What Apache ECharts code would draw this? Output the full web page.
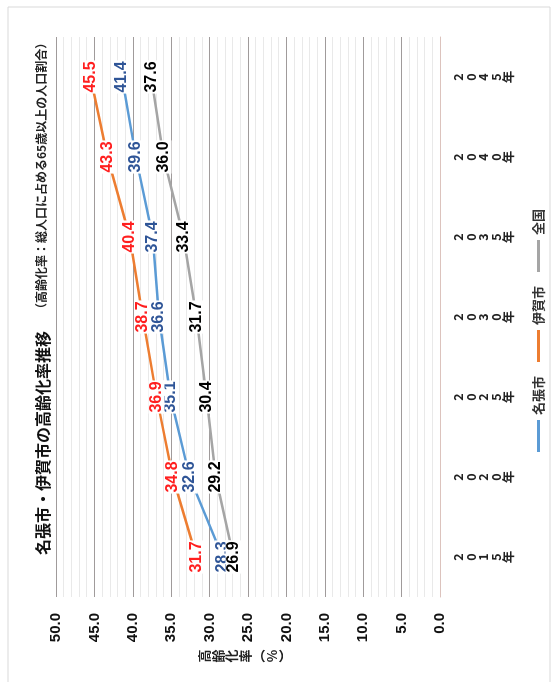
<!DOCTYPE html>
<html>
<head>
<meta charset="utf-8">
<script src="https://cdn.jsdelivr.net/npm/echarts@6/dist/echarts.min.js"></script>
<style>
  html, body { margin: 0; padding: 0; background: #fff; overflow: hidden; }
  body { width: 553px; height: 682px; position: relative; }
  /* the chart is laid out landscape and turned a quarter turn counter-clockwise */
  #wrap {
    position: absolute; left: 0; top: 0;
    width: 682px; height: 553px;
    transform-origin: 0 0;
    transform: translateY(682px) rotate(-90deg);
  }
  #chart { width: 682px; height: 553px; }
</style>
</head>
<body>
<div id="wrap"><div id="chart"></div></div>
<script>
// Aging rate (share of population aged 65+), %
const years = ['2015年', '2020年', '2025年', '2030年', '2035年', '2040年', '2045年'];
const nabari = [28.3, 32.6, 35.1, 36.6, 37.4, 39.6, 41.4];   // 名張市
const iga    = [31.7, 34.8, 36.9, 38.7, 40.4, 43.3, 45.5];   // 伊賀市
const japan  = [26.9, 29.2, 30.4, 31.7, 33.4, 36.0, 37.6];   // 全国
const seriesNames = ['名張市', '伊賀市', '全国'];
const titleText = '名張市・伊賀市の高齢化率推移';
const subtitleText = '（高齢化率：総人口に占める65歳以上の人口割合）';
const yAxisName = '高齢化率︵%︶';

const JP = '"Noto Sans CJK JP", "Noto Sans", sans-serif';
const NUM = '"Liberation Sans", Arial, sans-serif';

function lineSeries(name, data, color, labelColor) {
  return {
    name: name,
    type: 'line',
    data: data,
    symbol: 'circle',
    symbolSize: 1,
    showSymbol: true,
    lineStyle: { color: color, width: 2.5 },
    itemStyle: { color: color },
    label: {
      show: true,
      position: 'inside',
      formatter: p => p.value.toFixed(1),
      color: labelColor,
      fontFamily: NUM,
      fontSize: 16,
      fontWeight: 'bold',
      backgroundColor: '#fff',
      padding: [0, 1]
    },
    emphasis: { disabled: true }
  };
}

const chart = echarts.init(document.getElementById('chart'), null, { renderer: 'canvas' });
chart.setOption({
  animation: false,
  backgroundColor: '#fff',
  title: [
    { text: titleText, left: 122, top: 30,
      textStyle: { fontFamily: JP, fontSize: 16, fontWeight: 'bold', color: '#111' } },
    { text: subtitleText, left: 362, top: 30,
      textStyle: { fontFamily: JP, fontSize: 12, fontWeight: 'bold', color: '#222' } }
  ],
  legend: {
    data: seriesNames,
    left: 225, top: 527,
    icon: 'rect', itemWidth: 32, itemHeight: 3, itemGap: 14,
    textStyle: { fontFamily: JP, fontSize: 13, fontWeight: 'bold', color: '#333' }
  },
  grid: { left: 85, right: 37, top: 56, bottom: 113 },
  xAxis: {
    type: 'category',
    data: years,
    boundaryGap: true,
    axisLine: { lineStyle: { color: '#dcc3bd', width: 1 } },
    axisTick: { show: false },
    axisLabel: {
      margin: 12,
      fontFamily: JP, fontSize: 12.5, fontWeight: 'bold', color: '#222',
      lineHeight: 12.6,
      formatter: v => v.split('').join('\n')
    },
    splitLine: { show: false }
  },
  yAxis: {
    type: 'value',
    min: 0, max: 50, interval: 5,
    axisLine: { show: false },
    axisTick: { show: false },
    axisLabel: {
      margin: 16,
      fontFamily: NUM, fontSize: 15, fontWeight: 'bold', color: '#111',
      formatter: v => v.toFixed(1)
    },
    splitLine: { show: true, lineStyle: { color: '#a09b9b', width: 1.2 } },
    minorTick: { show: false, splitNumber: 5 },
    minorSplitLine: { show: true, lineStyle: { color: '#e9e9e9', width: 1 } }
  },
  graphic: [
    { type: 'rect', silent: true, z: -1,
      shape: { x: -10, y: 8, width: 685, height: 542 },
      style: { fill: 'none', stroke: '#d9d9d9', lineWidth: 1 } },
    { type: 'text', silent: true,
      x: 26, y: 245,
      style: {
        text: yAxisName.split('').join('\n'),
        fontFamily: JP, fontSize: 13, fontWeight: 'bold', fill: '#222',
        lineHeight: 13.5, align: 'center', verticalAlign: 'middle'
      } }
  ],
  series: [
    lineSeries(seriesNames[0], nabari, '#5b9bd5', '#2f5597'),
    lineSeries(seriesNames[1], iga, '#ed7d31', '#ff1f1f'),
    lineSeries(seriesNames[2], japan, '#a5a5a5', '#000')
  ]
});
</script>
</body>
</html>
